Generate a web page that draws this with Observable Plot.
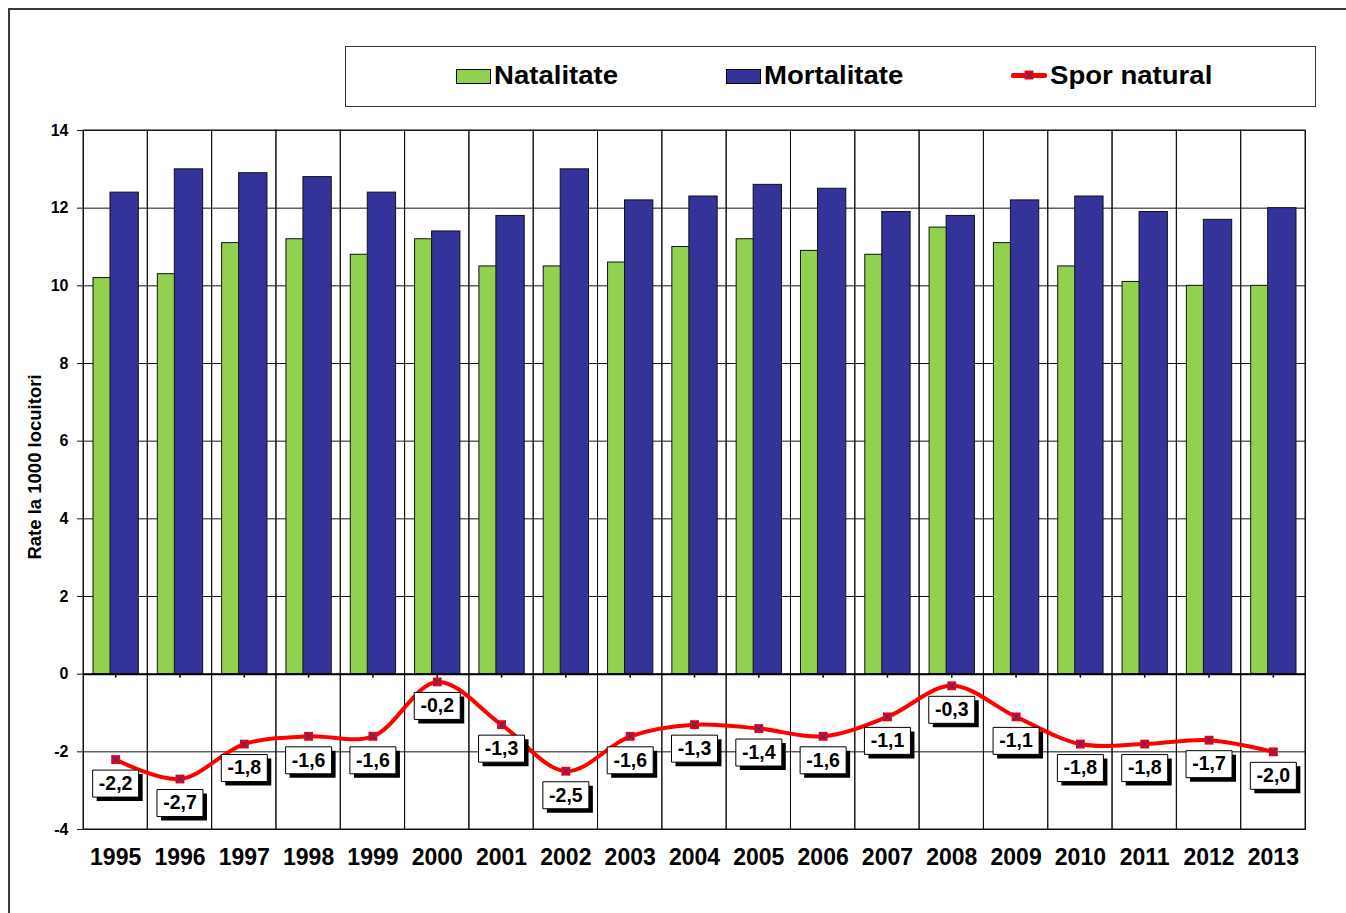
<!DOCTYPE html>
<html>
<head>
<meta charset="utf-8">
<script src="https://cdn.jsdelivr.net/npm/d3@7"></script>
<script src="https://cdn.jsdelivr.net/npm/@observablehq/plot@0.6"></script>
<style>
  body { margin: 0; background: #fff; font-family: "Liberation Sans", Arial, sans-serif; }
  #wrap { position: relative; width: 1346px; height: 913px; overflow: hidden; background: #fff; }
  #frame { position: absolute; left: 8px; top: 8px; width: 1400px; height: 1000px; border-left: 2px solid #3a3a3a; border-top: 2px solid #3a3a3a; }
  #chart { position: absolute; left: 0; top: 0; }
  #legend { position: absolute; left: 345px; top: 46px; width: 971px; height: 61px; border: 1px solid #333; box-sizing: border-box; background: #fff; }
  .item { position: absolute; top: 11px; height: 34px; line-height: 34px; font-weight: bold; font-size: 26px; color: #000; white-space: nowrap; }
  .tx { display: inline-block; transform: scaleX(1.06); transform-origin: left center; }
  .sw { position: absolute; top: 11px; width: 33px; height: 13px; border: 1px solid #000; }
  .ln { position: absolute; top: 15px; width: 36px; height: 5px; background: #ff0000; border-radius: 2px; }
</style>
</head>
<body>
<div id="wrap">
  <div id="frame"></div>
  <div id="chart"></div>
  <div id="legend">
    <div class="item" style="left:110px;"><span class="sw" style="left:0;background:#92D050;"></span><span class="tx" style="margin-left:38px;">Natalitate</span></div>
    <div class="item" style="left:380px;"><span class="sw" style="left:0;background:#333399;"></span><span class="tx" style="margin-left:38px;">Mortalitate</span></div>
    <div class="item" style="left:665px;"><span class="ln" style="left:0;"></span><svg style="position:absolute;left:13px;top:12px" width="10" height="10"><rect x="0.5" y="0.5" width="9" height="9" fill="#ff0000"/><path d="M1.5,1.5L8.5,8.5M8.5,1.5L1.5,8.5" stroke="#333399" stroke-width="1.2"/></svg><span class="tx" style="margin-left:39px;">Spor natural</span></div>
  </div>
</div>
<script>
const years = ["1995","1996","1997","1998","1999","2000","2001","2002","2003","2004","2005","2006","2007","2008","2009","2010","2011","2012","2013"];
const natalitate = [10.2,10.3,11.1,11.2,10.8,11.2,10.5,10.5,10.6,11.0,11.2,10.9,10.8,11.5,11.1,10.5,10.1,10.0,10.0];
const mortalitate = [12.4,13.0,12.9,12.8,12.4,11.4,11.8,13.0,12.2,12.3,12.6,12.5,11.9,11.8,12.2,12.3,11.9,11.7,12.0];
const sporNatural = [-2.2,-2.7,-1.8,-1.6,-1.6,-0.2,-1.3,-2.5,-1.6,-1.3,-1.4,-1.6,-1.1,-0.3,-1.1,-1.8,-1.8,-1.7,-2.0];
const yTicks = [-4,-2,0,2,4,6,8,10,12,14];
const yTitle = "Rate la 1000 locuitori";

const data = years.map((year, i) => ({year, nat: natalitate[i], mort: mortalitate[i], spor: sporNatural[i]}));
const fmt = v => v.toFixed(1).replace(".", ",");

const boxSymbol = {
  draw(ctx) {
    ctx.moveTo(-23, -13.5);
    ctx.lineTo(23, -13.5);
    ctx.lineTo(23, 13.5);
    ctx.lineTo(-23, 13.5);
    ctx.closePath();
  }
};

const chart = Plot.plot({
  width: 1346,
  height: 913,
  marginLeft: 83,
  marginRight: 41,
  marginTop: 130,
  marginBottom: 84,
  style: "font-family: 'Liberation Sans', Arial, sans-serif; font-weight: bold; background: transparent; overflow: visible; color: #000;",
  x: {type: "band", domain: years, padding: 0, round: false, axis: null},
  y: {domain: [yTicks[0], yTicks[yTicks.length - 1]], axis: null},
  marks: [
    Plot.ruleY(yTicks, {y: d => d, stroke: "#111", strokeWidth: 1}),
    Plot.barY(years, {x: d => d, y1: () => yTicks[0], y2: () => yTicks[yTicks.length - 1], fill: "none", stroke: "#111", strokeWidth: 1}),
    Plot.barY(data, {x: "year", y: "nat", fill: "#92D050", stroke: "#111", strokeWidth: 1, insetLeft: 10, insetRight: 27}),
    Plot.barY(data, {x: "year", y: "mort", fill: "#333399", stroke: "#111", strokeWidth: 1, insetLeft: 27, insetRight: 9}),
    Plot.ruleY([0], {y: d => d, stroke: "#000", strokeWidth: 2}),
    Plot.ruleX(years, {x: d => d, y1: () => 0, y2: () => 0, insetBottom: -4, stroke: "#000", strokeWidth: 1.5}),
    Plot.frame({stroke: "#111", strokeWidth: 1}),
    Plot.axisY({ticks: yTicks, tickSize: 6, tickPadding: 9, fontSize: 16, tickFormat: d => String(d), label: null, stroke: "#111"}),
    Plot.axisX({tickSize: 0, tickPadding: 19, fontSize: 23, label: null}),
    Plot.text([yTitle], {text: d => d, frameAnchor: "left", textAnchor: "middle", rotate: -90, dx: -48, dy: -13, fontSize: 18.5}),
    Plot.line(data, {x: "year", y: "spor", stroke: "#ff0000", strokeWidth: 4, curve: "catmull-rom"}),
    Plot.dot(data, {x: "year", y: "spor", symbol: boxSymbol, fill: "#000", stroke: "none", dx: 4, dy: 28}),
    Plot.dot(data, {x: "year", y: "spor", symbol: boxSymbol, fill: "#fff", stroke: "#000", strokeWidth: 1, dy: 24}),
    Plot.text(data, {x: "year", y: "spor", text: d => fmt(d.spor), dy: 24, fontSize: 19.5, fill: "#000"}),
    Plot.dot(data, {x: "year", y: "spor", symbol: "square", r: 5, fill: "#ff0000", stroke: "none"}),
    Plot.dot(data, {x: "year", y: "spor", symbol: "times", r: 3.5, stroke: "#333399", strokeWidth: 1.2, fill: "none"})
  ]
});
document.getElementById("chart").appendChild(chart);
</script>
</body>
</html>
